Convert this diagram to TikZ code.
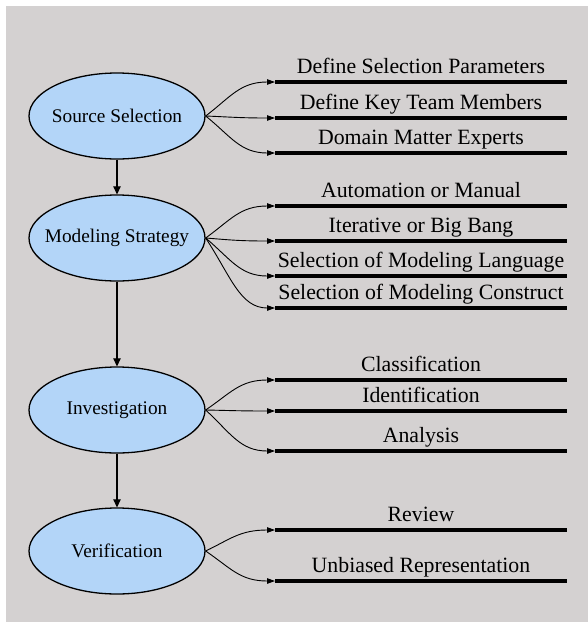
\documentclass[tikz,border=0pt]{standalone}
\usepackage{fontspec}
\setmainfont{Liberation Serif}
\usetikzlibrary{arrows.meta,shapes.geometric}
\definecolor{bggray}{RGB}{212,209,209}
\definecolor{ellblue}{RGB}{179,213,248}
\tikzset{
  phase/.style={ellipse, draw=black, line width=1.3pt, fill=ellblue, inner sep=0pt,
    minimum width=176pt, minimum height=86pt,
    label={[font=\fontsize{19.3}{22}\selectfont, inner sep=0pt]center:#1}},
  flow/.style={line width=1.1pt, -{Triangle[length=8pt,width=7.5pt]}},
  edge/.style={line width=0.9pt, -{Triangle[length=8pt,width=5.5pt]}},
  thickline/.style={line width=3.4pt},
  lab/.style={anchor=base, inner sep=0pt, font=\fontsize{21.8}{24}\selectfont}
}
\begin{document}
\begin{tikzpicture}[x=1pt,y=-1pt]
\useasboundingbox (0,0) rectangle (588,622);
\fill[white] (0,0) rectangle (588,622);
\fill[bggray] (6,6) rectangle (588,622);

\node[phase={Source Selection}] (ss) at (117,116) {};
\node[phase={Modeling Strategy}] (ms) at (117,238) {};
\node[phase={Investigation}] (inv) at (117,410) {};
\node[phase={Verification}] (ver) at (117,551) {};

\draw[flow] (ss) -- (ms);
\draw[flow] (ms) -- (inv);
\draw[flow] (inv) -- (ver);

\foreach \src/\y/\c/\n/\lab in {
  ss/82/-19/a1/Define Selection Parameters,
  ss/118/1/a2/Define Key Team Members,
  ss/153/20/a3/Domain Matter Experts,
  ms/206/-18/b1/Automation or Manual,
  ms/241/2/b2/Iterative or Big Bang,
  ms/276/21/b3/Selection of Modeling Language,
  ms/308/38/b4/Selection of Modeling Construct,
  inv/380/-17/c1/Classification,
  inv/411/0.5/c2/Identification,
  inv/451/23/c3/Analysis,
  ver/530/-12/d1/Review,
  ver/581/17/d2/Unbiased Representation}
{
  \coordinate (s\n) at (275,\y);
  \coordinate (e\n) at (567,\y);
  \draw[thickline] (s\n) -- (e\n);
  \node[lab] (t\n) at (421,\y-9) {\lab};
  \draw[edge] (\src.east) .. controls +(25,\c) and +(-35,0) .. (s\n);
}
\end{tikzpicture}
\end{document}
